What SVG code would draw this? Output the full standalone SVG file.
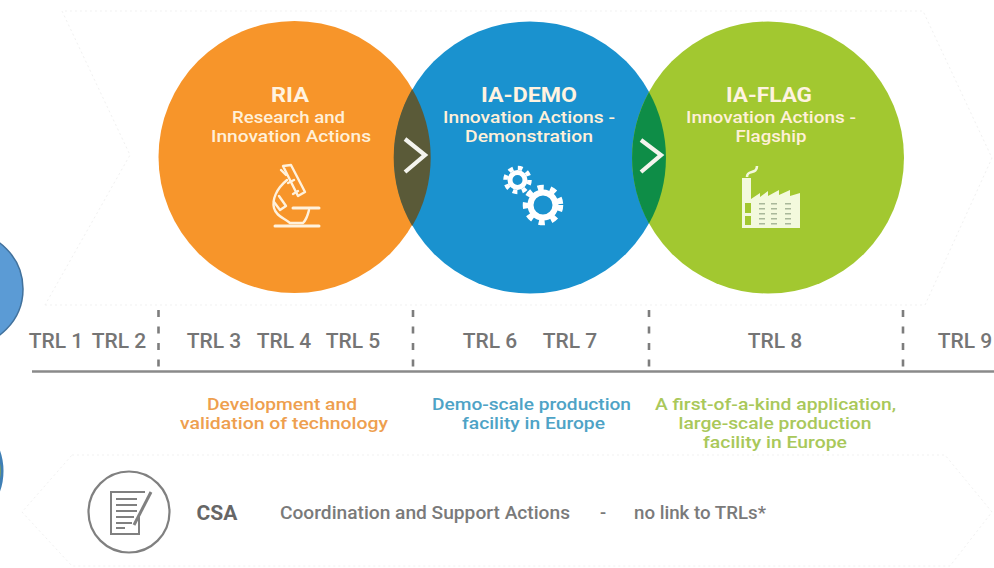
<svg xmlns="http://www.w3.org/2000/svg" width="994" height="568" viewBox="0 0 994 568">
<style>
text{font-family:"Roboto","Liberation Sans",sans-serif;text-anchor:middle}
.t{font-size:21px;font-weight:700;fill:#fff3e0}
.s{font-size:16.2px;font-weight:500;fill:#fff0d8}
.trl{font-size:21px;font-weight:500;fill:#757575}
.d{font-size:16.2px;font-weight:500}
.g{font-size:18px;font-weight:500;fill:#7a7a7a}
.ic{fill:none;stroke:#fff2dd;stroke-width:2.4;stroke-linecap:round;stroke-linejoin:round}
.v{stroke:#7d7d7d;stroke-width:2.6;stroke-dasharray:7 9.5;fill:none}
.f{fill:none;stroke:#f1f1f1;stroke-width:1;stroke-dasharray:2 3}
.ch{fill:none;stroke:#f4f4ee;stroke-width:4.2}
</style>
<rect width="994" height="568" fill="#ffffff"/>
<g id="background-chevrons">
<path class="f" d="M45 305H925L992 158L923 11H62L130 155L45 305"/>
<path class="f" d="M72 455H945L992 512L950 566H72L22 512Z"/>
</g>
<g id="stub-blue"><circle cx="-34" cy="289" r="57" fill="#5b9bd5" stroke="#41719c" stroke-width="1.5"/></g>
<g id="stub-yellow"><circle cx="-55" cy="471" r="57" fill="#a9b82a" stroke="#3f7fb5" stroke-width="3"/></g>
<g id="node-ria">
<circle cx="294.5" cy="157" r="136" fill="#f7952a"/>
<text class="t" x="290" y="102" textLength="38" lengthAdjust="spacingAndGlyphs">RIA</text>
<text class="s" x="288.5" y="122.5" textLength="113" lengthAdjust="spacingAndGlyphs">Research and</text>
<text class="s" x="291" y="142" textLength="160" lengthAdjust="spacingAndGlyphs">Innovation Actions</text>
<g id="icon-microscope" class="ic">
<path d="M283 166l8 -1 14 27-7 4z"/>
<path d="M286 175l-5 -5M294 180l-6 3M298 191l-5 3"/>
<path d="M287 180C276 189 272 200 274 208C276 216 284 218 290 223H303C307 219 308 214 309 210"/>
<path d="M279 196l7 10-6 4-6 -8"/>
<path d="M293 208H319" stroke-width="3"/>
<path d="M275 226H319" stroke-width="3"/>
</g>
</g>
<g id="node-ia-demo">
<circle cx="530" cy="157.5" r="136" fill="#1a92cf"/>
<text class="t" x="529" y="102" textLength="96" lengthAdjust="spacingAndGlyphs">IA-DEMO</text>
<text class="s" x="529" y="122.5" textLength="172" lengthAdjust="spacingAndGlyphs">Innovation Actions -</text>
<text class="s" x="529" y="142" textLength="128" lengthAdjust="spacingAndGlyphs">Demonstration</text>
<g id="icon-gears" fill="none" stroke="#fff">
<circle cx="517.5" cy="180" r="7.5" stroke-width="5"/>
<circle cx="517.5" cy="180" r="12" stroke-width="4.5" stroke-dasharray="4.7 4.72"/>
<circle cx="543" cy="205" r="12.5" stroke-width="6"/>
<circle cx="543" cy="205" r="17.5" stroke-width="5.5" stroke-dasharray="6.2 6.55"/>
</g>
</g>
<g id="node-ia-flag">
<circle cx="768" cy="157.5" r="136" fill="#a2c830"/>
<text class="t" x="769" y="102" textLength="86" lengthAdjust="spacingAndGlyphs">IA-FLAG</text>
<text class="s" x="771" y="122.5" textLength="170" lengthAdjust="spacingAndGlyphs">Innovation Actions -</text>
<text class="s" x="771" y="142" textLength="71" lengthAdjust="spacingAndGlyphs">Flagship</text>
<g id="icon-factory">
<path fill="#f3f9dd" d="M742 178H751V199L760 193V197L768 191V196L779 190V195L790 190V196L800 193V228H742Z"/>
<path fill="#a2c830" d="M745 203H751V213H745ZM745 216H751V225H745Z"/>
<path fill="none" stroke="#a9b89a" stroke-width="6" stroke-dasharray="1.6 3.4" d="M762 203V227M774 203V227M788 203V227"/>
<path fill="none" stroke="#f3f9dd" stroke-width="2.6" d="M747 177C747 169 757 175 757 166"/>
</g>
</g>
<g id="connectors">
<path d="M412.2 89A136 136 0 0 1 412.2 226A136 136 0 0 1 412.2 89Z" fill="#5a5a38"/>
<path d="M649 92A136 136 0 0 1 649 223.5A136 136 0 0 1 649 92Z" fill="#0e8d47"/>
<path class="ch" d="M405 139L425 155L405 172"/>
<path class="ch" d="M641 140L661 155L641 172"/>
<path d="M32 371.5H994" stroke="#8a8a8a" stroke-width="2.4" fill="none"/>
<path class="v" d="M158.5 310V372"/>
<path class="v" d="M413 310V372"/>
<path class="v" d="M649 310V372"/>
<path class="v" d="M903 310V372"/>
</g>
<g id="trl-labels">
<text class="trl" x="56" y="348">TRL 1</text>
<text class="trl" x="119" y="348">TRL 2</text>
<text class="trl" x="214" y="348">TRL 3</text>
<text class="trl" x="284" y="348">TRL 4</text>
<text class="trl" x="353" y="348">TRL 5</text>
<text class="trl" x="490" y="348">TRL 6</text>
<text class="trl" x="570" y="348">TRL 7</text>
<text class="trl" x="775" y="348">TRL 8</text>
<text class="trl" x="965" y="348">TRL 9</text>
</g>
<g id="descriptions">
<text class="d" fill="#ee9f4f" x="282" y="410" textLength="150" lengthAdjust="spacingAndGlyphs">Development and</text>
<text class="d" fill="#ee9f4f" x="284" y="429" textLength="208" lengthAdjust="spacingAndGlyphs">validation of technology</text>
<text class="d" fill="#4ea3c6" x="531.5" y="410" textLength="199" lengthAdjust="spacingAndGlyphs">Demo-scale production</text>
<text class="d" fill="#4ea3c6" x="533.5" y="429" textLength="143" lengthAdjust="spacingAndGlyphs">facility in Europe</text>
<text class="d" fill="#a9c85a" x="775.5" y="410" textLength="241" lengthAdjust="spacingAndGlyphs">A first-of-a-kind application,</text>
<text class="d" fill="#a9c85a" x="775" y="429" textLength="193" lengthAdjust="spacingAndGlyphs">large-scale production</text>
<text class="d" fill="#a9c85a" x="775" y="448" textLength="144" lengthAdjust="spacingAndGlyphs">facility in Europe</text>
</g>
<g id="node-csa">
<circle cx="129" cy="512" r="40.5" fill="#fff" stroke="#808080" stroke-width="2.2"/>
<g fill="none" stroke="#808080">
<path stroke-width="2" d="M145 492H111V534H139V515"/>
<path stroke-width="2" d="M116 499H137M116 505H137M116 511H137M116 517H134M116 523H132M116 528H125"/>
<path stroke-width="3" d="M134 525L151 492"/>
</g>
<text x="217" y="520" style="font-size:21px;font-weight:700;fill:#666">CSA</text>
<text class="g" x="425" y="519" textLength="290" lengthAdjust="spacingAndGlyphs">Coordination and Support Actions</text>
<text class="g" x="603" y="519">-</text>
<text class="g" x="700" y="519" textLength="132" lengthAdjust="spacingAndGlyphs">no link to TRLs*</text>
</g>
</svg>
